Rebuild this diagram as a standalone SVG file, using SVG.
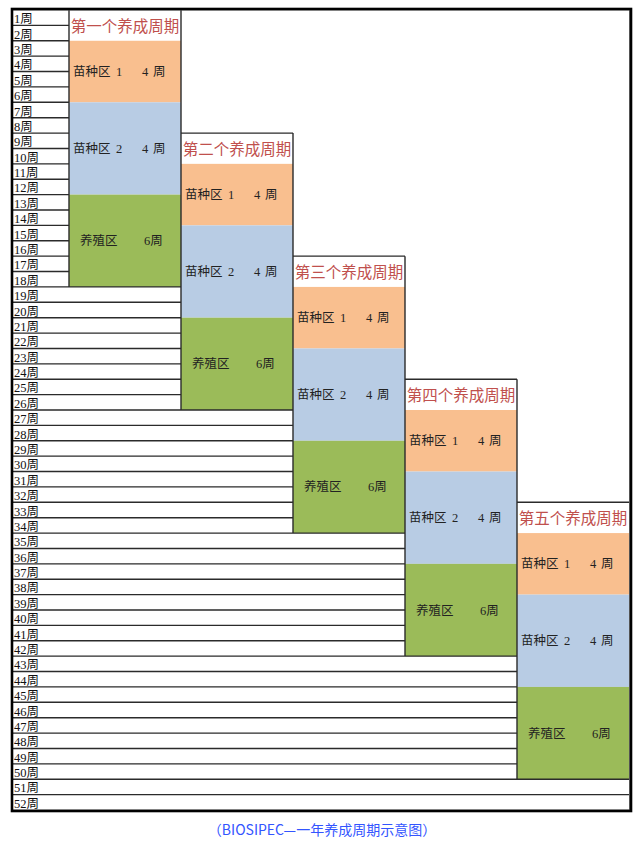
<svg xmlns="http://www.w3.org/2000/svg" width="642" height="843" viewBox="0 0 642 843">
<style>
.wk{font-family:"Liberation Serif","Noto Sans CJK SC",serif;font-size:12.5px;fill:#111}
.ttl{font-family:"Noto Sans CJK SC",sans-serif;font-size:15.5px;fill:#c0504d;text-anchor:middle}
.zn{font-family:"Liberation Serif","Noto Sans CJK SC",serif;font-size:12.5px;fill:#222}
.ln{stroke:#2b2b2b;stroke-width:1.4;fill:none}
.tw{fill:#fff}
.or{fill:#f9bf8f}
.bl{fill:#b8cce4}
.gr{fill:#9bbb59}
.cap{font-family:"Noto Sans CJK SC",sans-serif;font-size:14px;fill:#3355ff;text-anchor:middle}
</style>
<rect x="0" y="0" width="642" height="843" fill="#fff"/>

<g id="cycle1">
<rect class="tw" x="69" y="10" width="112" height="30.77"/>
<rect class="or" x="69" y="40.77" width="112" height="61.54"/>
<rect class="bl" x="69" y="102.31" width="112" height="92.31"/>
<rect class="gr" x="69" y="194.62" width="112" height="92.3"/>
<text class="ttl" x="125" y="32">第一个养成周期</text>
<text class="zn" y="76"><tspan x="73">苗种区</tspan><tspan x="116">1</tspan><tspan x="142">4</tspan><tspan x="153">周</tspan></text>
<text class="zn" y="153"><tspan x="73">苗种区</tspan><tspan x="116">2</tspan><tspan x="142">4</tspan><tspan x="153">周</tspan></text>
<text class="zn" y="245.3"><tspan x="80">养殖区</tspan><tspan x="144">6周</tspan></text>
</g>

<g id="cycle2">
<rect class="tw" x="181" y="133.08" width="112" height="30.77"/>
<rect class="or" x="181" y="163.85" width="112" height="61.53"/>
<rect class="bl" x="181" y="225.38" width="112" height="92.31"/>
<rect class="gr" x="181" y="317.69" width="112" height="92.31"/>
<text class="ttl" x="237" y="155.08">第二个养成周期</text>
<text class="zn" y="199.1"><tspan x="185">苗种区</tspan><tspan x="228">1</tspan><tspan x="254">4</tspan><tspan x="265">周</tspan></text>
<text class="zn" y="276"><tspan x="185">苗种区</tspan><tspan x="228">2</tspan><tspan x="254">4</tspan><tspan x="265">周</tspan></text>
<text class="zn" y="368.3"><tspan x="192">养殖区</tspan><tspan x="256">6周</tspan></text>
</g>

<g id="cycle3">
<rect class="tw" x="293" y="256.15" width="112" height="30.77"/>
<rect class="or" x="293" y="286.92" width="112" height="61.54"/>
<rect class="bl" x="293" y="348.46" width="112" height="92.31"/>
<rect class="gr" x="293" y="440.77" width="112" height="92.31"/>
<text class="ttl" x="349" y="278.15">第三个养成周期</text>
<text class="zn" y="322.2"><tspan x="297">苗种区</tspan><tspan x="340">1</tspan><tspan x="366">4</tspan><tspan x="377">周</tspan></text>
<text class="zn" y="399.1"><tspan x="297">苗种区</tspan><tspan x="340">2</tspan><tspan x="366">4</tspan><tspan x="377">周</tspan></text>
<text class="zn" y="491.4"><tspan x="304">养殖区</tspan><tspan x="368">6周</tspan></text>
</g>

<g id="cycle4">
<rect class="tw" x="405" y="379.23" width="112" height="30.77"/>
<rect class="or" x="405" y="410" width="112" height="61.54"/>
<rect class="bl" x="405" y="471.54" width="112" height="92.31"/>
<rect class="gr" x="405" y="563.85" width="112" height="92.3"/>
<text class="ttl" x="461" y="401.23">第四个养成周期</text>
<text class="zn" y="445.3"><tspan x="409">苗种区</tspan><tspan x="452">1</tspan><tspan x="478">4</tspan><tspan x="489">周</tspan></text>
<text class="zn" y="522.2"><tspan x="409">苗种区</tspan><tspan x="452">2</tspan><tspan x="478">4</tspan><tspan x="489">周</tspan></text>
<text class="zn" y="614.5"><tspan x="416">养殖区</tspan><tspan x="480">6周</tspan></text>
</g>

<g id="cycle5">
<rect class="tw" x="517" y="502.31" width="112" height="30.77"/>
<rect class="or" x="517" y="533.08" width="112" height="61.54"/>
<rect class="bl" x="517" y="594.62" width="112" height="92.3"/>
<rect class="gr" x="517" y="686.92" width="112" height="92.31"/>
<text class="ttl" x="573" y="524.31">第五个养成周期</text>
<text class="zn" y="568.4"><tspan x="521">苗种区</tspan><tspan x="564">1</tspan><tspan x="590">4</tspan><tspan x="601">周</tspan></text>
<text class="zn" y="645.3"><tspan x="521">苗种区</tspan><tspan x="564">2</tspan><tspan x="590">4</tspan><tspan x="601">周</tspan></text>
<text class="zn" y="737.6"><tspan x="528">养殖区</tspan><tspan x="592">6周</tspan></text>
</g>

<g id="grid">
<path class="ln" d="M12 25.38H69M12 40.77H69M12 56.15H69M12 71.54H69M12 86.92H69M12 102.31H69M12 117.69H69M12 133.08H69M12 148.46H69M12 163.85H69M12 179.23H69M12 194.62H69M12 210H69M12 225.38H69M12 240.77H69M12 256.15H69M12 271.54H69
M12 286.92H181M12 302.31H181M12 317.69H181M12 333.08H181M12 348.46H181M12 363.85H181M12 379.23H181M12 394.62H181
M12 410H293M12 425.38H293M12 440.77H293M12 456.15H293M12 471.54H293M12 486.92H293M12 502.31H293M12 517.69H293
M12 533.08H405M12 548.46H405M12 563.85H405M12 579.23H405M12 594.62H405M12 610H405M12 625.38H405M12 640.77H405
M12 656.15H517M12 671.54H517M12 686.92H517M12 702.31H517M12 717.69H517M12 733.08H517M12 748.46H517M12 763.85H517
M12 779.23H629M12 794.62H629
M69 10V286.92M181 10V410M293 133.08V533.08M405 256.15V656.15M517 379.23V779.23
M181 133.08H293M293 256.15H405M405 379.23H517M517 502.31H629"/>
<rect x="12.5" y="10" width="617" height="800" fill="none" stroke="#777" stroke-width="1"/>
<rect x="12" y="9" width="619" height="802" fill="none" stroke="#000" stroke-width="2.6"/>
</g>

<g id="weeks">
<text class="wk" x="14" y="23.2">1周</text>
<text class="wk" x="14" y="38.58">2周</text>
<text class="wk" x="14" y="53.97">3周</text>
<text class="wk" x="14" y="69.35">4周</text>
<text class="wk" x="14" y="84.74">5周</text>
<text class="wk" x="14" y="100.12">6周</text>
<text class="wk" x="14" y="115.51">7周</text>
<text class="wk" x="14" y="130.89">8周</text>
<text class="wk" x="14" y="146.28">9周</text>
<text class="wk" x="14" y="161.66">10周</text>
<text class="wk" x="14" y="177.05">11周</text>
<text class="wk" x="14" y="192.43">12周</text>
<text class="wk" x="14" y="207.82">13周</text>
<text class="wk" x="14" y="223.2">14周</text>
<text class="wk" x="14" y="238.58">15周</text>
<text class="wk" x="14" y="253.97">16周</text>
<text class="wk" x="14" y="269.35">17周</text>
<text class="wk" x="14" y="284.74">18周</text>
<text class="wk" x="14" y="300.12">19周</text>
<text class="wk" x="14" y="315.51">20周</text>
<text class="wk" x="14" y="330.89">21周</text>
<text class="wk" x="14" y="346.28">22周</text>
<text class="wk" x="14" y="361.66">23周</text>
<text class="wk" x="14" y="377.05">24周</text>
<text class="wk" x="14" y="392.43">25周</text>
<text class="wk" x="14" y="407.82">26周</text>
<text class="wk" x="14" y="423.2">27周</text>
<text class="wk" x="14" y="438.58">28周</text>
<text class="wk" x="14" y="453.97">29周</text>
<text class="wk" x="14" y="469.35">30周</text>
<text class="wk" x="14" y="484.74">31周</text>
<text class="wk" x="14" y="500.12">32周</text>
<text class="wk" x="14" y="515.51">33周</text>
<text class="wk" x="14" y="530.89">34周</text>
<text class="wk" x="14" y="546.28">35周</text>
<text class="wk" x="14" y="561.66">36周</text>
<text class="wk" x="14" y="577.05">37周</text>
<text class="wk" x="14" y="592.43">38周</text>
<text class="wk" x="14" y="607.82">39周</text>
<text class="wk" x="14" y="623.2">40周</text>
<text class="wk" x="14" y="638.58">41周</text>
<text class="wk" x="14" y="653.97">42周</text>
<text class="wk" x="14" y="669.35">43周</text>
<text class="wk" x="14" y="684.74">44周</text>
<text class="wk" x="14" y="700.12">45周</text>
<text class="wk" x="14" y="715.51">46周</text>
<text class="wk" x="14" y="730.89">47周</text>
<text class="wk" x="14" y="746.28">48周</text>
<text class="wk" x="14" y="761.66">49周</text>
<text class="wk" x="14" y="777.05">50周</text>
<text class="wk" x="14" y="792.43">51周</text>
<text class="wk" x="14" y="807.82">52周</text>
</g>

<text class="cap" x="322" y="835">（BIOSIPEC—一年养成周期示意图）</text>
</svg>
